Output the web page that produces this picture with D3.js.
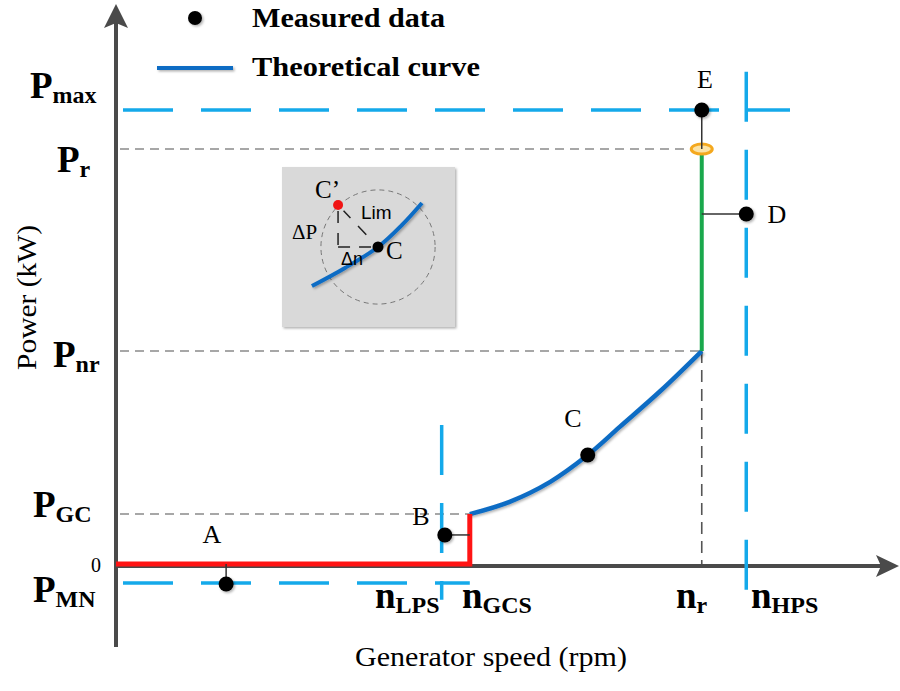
<!DOCTYPE html>
<html><head><meta charset="utf-8">
<script src="https://cdn.jsdelivr.net/npm/d3@7"></script>
<style>body{margin:0;background:#fff}</style>
</head><body>
<svg id="chart" width="900" height="691"></svg>
<script>
// ---------------- DATA (schematic units) ----------------
const speedNames  = ["n|LPS", "n|GCS", "n|r", "n|HPS"];
const speedValues = [41.7, 45.3, 75.0, 80.7];

const powerNames  = ["P|max", "P|r", "P|nr", "P|GC", "0", "P|MN"];
const powerValues = [100, 91.4, 46.9, 11.0, 0, -4.2];

// measured points
const pointLabels = ["A", "B", "C", "D", "E"];
const pointSpeed  = [14.1, 42.1, 60.4, 80.7, 75.0];
const pointPower  = [-4.4, 6.4, 24.0, 77.1, 100];
// where each point's stem meets the theoretical curve
const stemSpeed   = [14.1, 45.3, 60.4, 75.0, 75.0];
const stemPower   = [0, 6.4, 24.0, 77.1, 91.4];

// theoretical curve pieces
const redSpeed   = [0, 45.3, 45.3];
const redPower   = [0, 0, 11.0];
const curveSpeed = [45.3, 50.4, 55.6, 60.4, 64.5, 69.7, 75.0];
const curvePower = [11.0, 13.7, 18.1, 24.0, 30.2, 38.1, 46.9];
const greenSpeed = [75.0, 75.0];
const greenPower = [46.9, 90.7];

// protection limits (blue dashed)  [x1,x2,y1,y2]
const limitSpeed1 = [0, 0, 41.7, 80.7];
const limitSpeed2 = [86.3, 45.3, 41.7, 80.7];
const limitPower1 = [100, -4.2, 30.6, 108.4];
const limitPower2 = [100, -4.2, -7.9, -7.4];

// inset (local 0..1 units)
const insetCurveX = [0.173, 0.364, 0.555, 0.694, 0.809];
const insetCurveY = [0.256, 0.369, 0.500, 0.638, 0.775];
const insetC      = [0.555, 0.500];
const insetCp     = [0.324, 0.763];
const insetRadius = 0.33;

// ---------------- DRAW ----------------
const svg = d3.select("#chart");
const serif = "'Liberation Serif','Times New Roman',serif";
const sans = "'Liberation Sans',Arial,sans-serif";

const x = d3.scaleLinear().domain([0, 100]).range([116, 897]);
const y = d3.scaleLinear().domain([0, 100]).range([564, 110]);

const defs = svg.append("defs");
const sh = defs.append("filter").attr("id","sh").attr("filterUnits","userSpaceOnUse")
  .attr("x",0).attr("y",0).attr("width",900).attr("height",691);
sh.append("feDropShadow").attr("dx",1.5).attr("dy",1.5).attr("stdDeviation",1.2).attr("flood-color","#000").attr("flood-opacity",0.3);

const line = d3.line().x(d => x(d[0])).y(d => y(d[1]));
const zip = (a, b) => a.map((v, i) => [v, b[i]]);

// grey reference dashes
const nIdx = k => speedNames.indexOf(k), pIdx = k => powerNames.indexOf(k);
const nr = speedValues[nIdx("n|r")], ngcs = speedValues[nIdx("n|GCS")];
const Pr = powerValues[pIdx("P|r")], Pnr = powerValues[pIdx("P|nr")], Pgc = powerValues[pIdx("P|GC")];
const greyH = [[0, nr, Pr], [0, nr, Pnr], [0, ngcs, Pgc]];
greyH.forEach(g => {
  svg.append("line").attr("x1", x(g[0]) + 4).attr("x2", x(g[1])).attr("y1", y(g[2])).attr("y2", y(g[2]))
    .attr("stroke", "#8a8a8a").attr("stroke-width", 1.6).attr("stroke-dasharray", "9,6");
});
svg.append("line").attr("x1", x(nr)).attr("x2", x(nr)).attr("y1", y(Pnr)).attr("y2", y(0))
  .attr("stroke", "#555").attr("stroke-width", 1.6).attr("stroke-dasharray", "12,7");

// axes
svg.append("line").attr("x1", x(0)).attr("x2", 884).attr("y1", y(0) + 2).attr("y2", y(0) + 2)
  .attr("stroke", "#4a4a4a").attr("stroke-width", 4);
svg.append("line").attr("x1", x(0)).attr("x2", x(0)).attr("y1", 20).attr("y2", 647)
  .attr("stroke", "#4a4a4a").attr("stroke-width", 4);
svg.append("path").attr("d", `M${x(0)},4 L${x(0)+12},28 L${x(0)},23 L${x(0)-12},28 Z`).attr("fill", "#4a4a4a");
svg.append("path").attr("d", `M899,${y(0)+2} L876,${y(0)-9} L881,${y(0)+2} L876,${y(0)+13} Z`).attr("fill", "#4a4a4a");

// blue dashed protection limits
limitSpeed1.forEach((v, i) => {
  svg.append("line").attr("x1", x(v)).attr("x2", x(limitSpeed2[i]))
    .attr("y1", y(limitPower1[i])).attr("y2", y(limitPower2[i]))
    .attr("stroke", "#14a9ea").attr("stroke-width", 3.5)
    .attr("stroke-dasharray", "50,28").attr("stroke-dashoffset", i < 2 ? -7 : 0);
});

// theoretical curve
svg.append("path")
  .attr("d", d3.line().x(d => x(d[0])).y(d => y(d[1])).curve(d3.curveCatmullRom)(zip(curveSpeed, curvePower)))
  .attr("fill", "none").attr("stroke", "#0f6cc4").attr("stroke-width", 4.5).attr("filter","url(#sh)");
svg.append("path").attr("d", line(zip(redSpeed, redPower)))
  .attr("fill", "none").attr("stroke", "#ff1414").attr("stroke-width", 5);
svg.append("path").attr("d", line(zip(greenSpeed, greenPower)))
  .attr("fill", "none").attr("stroke", "#1aa84c").attr("stroke-width", 4);
svg.append("ellipse").attr("cx", x(nr)).attr("cy", y(Pr)).attr("rx", 10.5).attr("ry", 5)
  .attr("fill", "#fbe3a6").attr("stroke", "#f4a81e").attr("stroke-width", 3);

// stems + points
pointLabels.forEach((l, i) => {
  svg.append("line").attr("x1", x(stemSpeed[i])).attr("x2", x(pointSpeed[i]))
    .attr("y1", y(stemPower[i])).attr("y2", y(pointPower[i]))
    .attr("stroke", "#333").attr("stroke-width", 1.5);
});
pointLabels.forEach((l, i) => {
  svg.append("circle").attr("cx", x(pointSpeed[i])).attr("cy", y(pointPower[i])).attr("r", 7.5)
    .attr("fill", "#000").attr("filter", "url(#sh)");
});
const pointLabelPos = [[212, 543], [421, 525], [573, 427], [777, 223], [705, 88]];
pointLabels.forEach((l, i) => {
  svg.append("text").attr("x", pointLabelPos[i][0]).attr("y", pointLabelPos[i][1])
    .attr("text-anchor", "middle").attr("font-family", serif).attr("font-size", 26).text(l);
});

// subscripted labels
function subLabel(px, py, spec, subDy) {
  const [main, sub] = spec.split("|");
  const t = svg.append("text").attr("x", px).attr("y", py)
    .attr("font-family", serif).attr("font-weight", "bold").attr("fill", "#000");
  t.append("tspan").attr("font-size", 37).text(main);
  t.append("tspan").attr("font-size", 24).attr("dy", subDy).text(sub);
}
// y labels: [x start, baseline offset from line]
const powerLabelPos = [[30, -12], [57, 23], [53, 16], [33, 3], null, [33, 19]];
powerNames.forEach((n, i) => {
  if (n === "0") {
    svg.append("text").attr("x", 101).attr("y", y(powerValues[i]) + 8).attr("text-anchor", "end")
      .attr("font-family", serif).attr("font-size", 20).text("0");
  } else {
    subLabel(powerLabelPos[i][0], y(powerValues[i]) + powerLabelPos[i][1], n, 5);
  }
});
const speedLabelPos = [375, 462, 676, 751];
speedNames.forEach((n, i) => subLabel(speedLabelPos[i], 608, n, 5));

// axis titles
svg.append("text").attr("x", 355).attr("y", 666).attr("font-family", serif).attr("font-size", 27)
  .attr("textLength", 272).attr("lengthAdjust", "spacingAndGlyphs").text("Generator speed (rpm)");
svg.append("text").attr("transform", "translate(36,370) rotate(-90)").attr("font-family", serif).attr("font-size", 27)
  .attr("textLength", 145).attr("lengthAdjust", "spacingAndGlyphs").text("Power (kW)");

// legend
svg.append("circle").attr("cx", 195).attr("cy", 18).attr("r", 7).attr("fill", "#000").attr("filter", "url(#sh)");
svg.append("text").attr("x", 252).attr("y", 27).attr("font-family", serif).attr("font-weight", "bold").attr("font-size", 27)
  .attr("textLength", 193).attr("lengthAdjust", "spacingAndGlyphs").text("Measured data");
svg.append("line").attr("x1", 157).attr("x2", 233).attr("y1", 68).attr("y2", 68)
  .attr("stroke", "#0f6cc4").attr("stroke-width", 4).attr("filter","url(#sh)");
svg.append("text").attr("x", 252).attr("y", 76).attr("font-family", serif).attr("font-weight", "bold").attr("font-size", 27)
  .attr("textLength", 228).attr("lengthAdjust", "spacingAndGlyphs").text("Theoretical curve");

// inset
const ix = d3.scaleLinear().domain([0, 1]).range([282, 455]);
const iy = d3.scaleLinear().domain([0, 1]).range([327, 167]);
const ins = svg.append("g");
ins.append("rect").attr("x", ix(0)).attr("y", iy(1)).attr("width", ix(1) - ix(0)).attr("height", iy(0) - iy(1))
  .attr("fill", "#d9d9d9").attr("filter", "url(#sh)");
const rpx = ix(insetRadius) - ix(0);
ins.append("circle").attr("cx", ix(insetC[0])).attr("cy", iy(insetC[1])).attr("r", rpx)
  .attr("fill", "none").attr("stroke", "#777").attr("stroke-width", 1).attr("stroke-dasharray", "5,4");
ins.append("path").attr("d", d3.line().x(d => ix(d[0])).y(d => iy(d[1])).curve(d3.curveCatmullRom)(zip(insetCurveX, insetCurveY)))
  .attr("fill", "none").attr("stroke", "#0f6cc4").attr("stroke-width", 4).attr("filter","url(#sh)");
const dash = { stroke: "#222", w: 1.5 };
ins.append("line").attr("x1", ix(insetCp[0])).attr("x2", ix(insetCp[0])).attr("y1", iy(insetCp[1]) + 6).attr("y2", iy(insetC[1]))
  .attr("stroke", dash.stroke).attr("stroke-width", dash.w).attr("stroke-dasharray", "12,10");
ins.append("line").attr("x1", ix(insetCp[0])).attr("x2", ix(insetC[0])).attr("y1", iy(insetC[1])).attr("y2", iy(insetC[1]))
  .attr("stroke", dash.stroke).attr("stroke-width", dash.w).attr("stroke-dasharray", "12,9");
ins.append("line").attr("x1", ix(insetCp[0])).attr("x2", ix(insetC[0])).attr("y1", iy(insetCp[1])).attr("y2", iy(insetC[1]))
  .attr("stroke", dash.stroke).attr("stroke-width", dash.w).attr("stroke-dasharray", "0,8,10,11,12,30");
ins.append("circle").attr("cx", ix(insetCp[0])).attr("cy", iy(insetCp[1])).attr("r", 5).attr("fill", "#f01414");
ins.append("circle").attr("cx", ix(insetC[0])).attr("cy", iy(insetC[1])).attr("r", 5.5).attr("fill", "#000");
ins.append("text").attr("x", 315).attr("y", 198).attr("font-family", serif).attr("font-size", 25).text("C’");
ins.append("text").attr("x", 361).attr("y", 219).attr("font-family", sans).attr("font-size", 19).text("Lim");
ins.append("text").attr("x", 292).attr("y", 239).attr("font-family", serif).attr("font-size", 21).text("ΔP");
ins.append("text").attr("x", 386).attr("y", 259).attr("font-family", serif).attr("font-size", 25).text("C");
ins.append("text").attr("x", 341).attr("y", 265).attr("font-family", sans).attr("font-size", 18).text("Δn");
</script>
</body></html>
